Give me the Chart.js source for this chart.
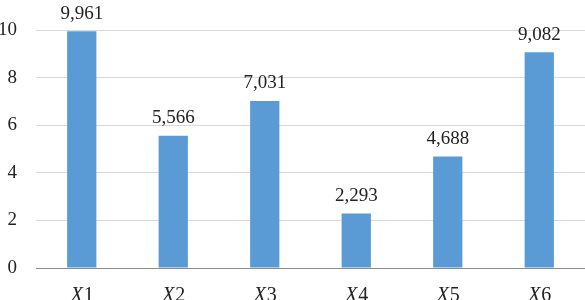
<!DOCTYPE html>
<html>
<head>
<meta charset="utf-8">
<script src="https://cdn.jsdelivr.net/npm/chart.js@4"></script>
<style>
  body { margin: 0; background: #fff; }
  #wrap { width: 585px; height: 300px; }
</style>
</head>
<body>
<div id="wrap"><canvas id="chart" width="585" height="300"></canvas></div>
<script>
const categories = ['1', '2', '3', '4', '5', '6'];
const values = [9.961, 5.566, 7.031, 2.293, 4.688, 9.082];
const yTicks = [0, 2, 4, 6, 8, 10];

const fontFamily = '"Liberation Serif", "Times New Roman", serif';
const fontSize = 19;

function formatValue(v) {
    return v.toFixed(3).replace('.', ',');
}

// value labels over the bars
const valueLabels = {
    id: 'valueLabels',
    afterDatasetsDraw(chart) {
        const ctx = chart.ctx;
        const meta = chart.getDatasetMeta(0);
        ctx.save();
        ctx.font = fontSize + 'px ' + fontFamily;
        ctx.fillStyle = '#222';
        ctx.textAlign = 'center';
        ctx.textBaseline = 'bottom';
        meta.data.forEach((bar, i) => {
            ctx.fillText(formatValue(values[i]), bar.x, bar.y - 8);
        });
        ctx.restore();
    }
};

// x labels: italic X followed by upright digit
const xLabels = {
    id: 'xLabels',
    afterDraw(chart) {
        const ctx = chart.ctx;
        const xScale = chart.scales.x;
        const y = chart.chartArea.bottom + 28;
        const size = fontSize + 1;
        ctx.save();
        ctx.fillStyle = '#222';
        ctx.textBaseline = 'middle';
        ctx.textAlign = 'left';
        categories.forEach((c, i) => {
            const cx = xScale.getPixelForValue(i);
            ctx.font = 'italic ' + size + 'px ' + fontFamily;
            const w1 = ctx.measureText('X').width;
            ctx.font = size + 'px ' + fontFamily;
            const w2 = ctx.measureText(c).width;
            const x = cx - (w1 + w2) / 2;
            ctx.font = 'italic ' + size + 'px ' + fontFamily;
            ctx.fillText('X', x, y);
            ctx.font = size + 'px ' + fontFamily;
            ctx.fillText(c, x + w1 + 1, y);
        });
        ctx.restore();
    }
};

new Chart(document.getElementById('chart'), {
    type: 'bar',
    data: {
        labels: categories.map(c => 'X' + c),
        datasets: [{
            data: values,
            backgroundColor: '#5b9bd5',
            borderWidth: 0,
            barPercentage: 0.32,
            categoryPercentage: 1
        }]
    },
    options: {
        responsive: false,
        animation: false,
        layout: { padding: { top: 25, right: 0, left: 0, bottom: 0 } },
        plugins: { legend: { display: false }, tooltip: { enabled: false } },
        scales: {
            x: {
                grid: { display: false, drawTicks: false },
                border: { color: '#8c8c8c', width: 1 },
                ticks: { color: 'rgba(0,0,0,0)', font: { family: fontFamily, size: fontSize }, padding: 8 },
                afterFit(scale) { scale.height = 32; }
            },
            y: {
                min: 0,
                max: 10,
                afterBuildTicks(scale) { scale.ticks = yTicks.map(v => ({ value: v })); },
                grid: { color: '#d9d9d9', drawTicks: false },
                border: { display: false },
                ticks: {
                    color: '#222',
                    font: { family: fontFamily, size: fontSize },
                    padding: 19
                },
                afterFit(scale) { scale.width = 36; }
            }
        }
    },
    plugins: [valueLabels, xLabels]
});
</script>
</body>
</html>
